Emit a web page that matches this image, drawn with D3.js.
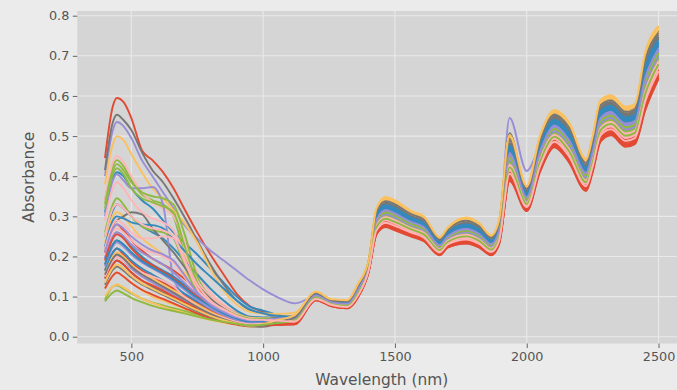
<!DOCTYPE html>
<html>
<head>
<meta charset="utf-8">
<script src="https://cdn.jsdelivr.net/npm/d3@7"></script>
<style>
  body { margin: 0; background: #ebebeb; }
  text { font-family: "DejaVu Sans", sans-serif; }
</style>
</head>
<body>
<svg id="chart" width="677" height="390"></svg>
<script>
// wavelength knots (nm) shared by every spectrum
const wavelengths = [400, 430, 445, 470, 500, 540, 580, 620, 660, 700, 750, 800, 850, 900, 950, 1000, 1050, 1120,
  1200, 1260, 1320, 1360, 1400, 1430, 1465, 1500, 1560, 1610, 1670, 1700, 1770, 1820, 1865, 1895, 1935, 2000,
  2050, 2105, 2160, 2225, 2250, 2280, 2320, 2375, 2410, 2450, 2500];

// absorbance of each sample
const s00 = [0.445, 0.575, 0.595, 0.585, 0.545, 0.465, 0.44, 0.41, 0.37, 0.32, 0.26, 0.205, 0.155, 0.107, 0.076, 0.062, 0.048, 0.033,
  0.091, 0.076, 0.071, 0.098, 0.160, 0.255, 0.273, 0.265, 0.250, 0.238, 0.203, 0.222, 0.232, 0.222, 0.203, 0.230, 0.388, 0.313, 0.410, 0.472, 0.435, 0.363, 0.410, 0.486, 0.502, 0.473, 0.480, 0.565, 0.642];
const s01 = [0.31, 0.395, 0.41, 0.40, 0.37, 0.34, 0.32, 0.29, 0.26, 0.235, 0.205, 0.17, 0.135, 0.10, 0.075, 0.065, 0.055, 0.047,
  0.103, 0.085, 0.082, 0.117, 0.177, 0.291, 0.314, 0.306, 0.285, 0.272, 0.228, 0.250, 0.268, 0.256, 0.231, 0.263, 0.455, 0.348, 0.460, 0.523, 0.490, 0.407, 0.460, 0.543, 0.557, 0.528, 0.535, 0.645, 0.715];
const s02 = [0.40, 0.515, 0.535, 0.525, 0.495, 0.44, 0.40, 0.36, 0.32, 0.28, 0.245, 0.215, 0.19, 0.165, 0.14, 0.118, 0.10, 0.083,
  0.100, 0.084, 0.080, 0.113, 0.174, 0.284, 0.307, 0.299, 0.279, 0.266, 0.223, 0.245, 0.261, 0.250, 0.226, 0.262, 0.545, 0.413, 0.475, 0.520, 0.480, 0.399, 0.451, 0.533, 0.547, 0.518, 0.525, 0.630, 0.702];
const s03 = [0.415, 0.535, 0.553, 0.54, 0.515, 0.46, 0.415, 0.385, 0.345, 0.30, 0.24, 0.18, 0.13, 0.09, 0.066, 0.058, 0.052, 0.052,
  0.108, 0.090, 0.087, 0.125, 0.184, 0.307, 0.333, 0.325, 0.301, 0.288, 0.239, 0.262, 0.284, 0.271, 0.243, 0.278, 0.507, 0.363, 0.482, 0.546, 0.515, 0.427, 0.482, 0.569, 0.582, 0.553, 0.560, 0.681, 0.748];
const s04 = [0.38, 0.48, 0.50, 0.49, 0.455, 0.41, 0.37, 0.345, 0.315, 0.285, 0.235, 0.17, 0.115, 0.08, 0.062, 0.058, 0.057, 0.06,
  0.112, 0.093, 0.091, 0.132, 0.190, 0.320, 0.348, 0.340, 0.314, 0.300, 0.248, 0.272, 0.297, 0.283, 0.253, 0.290, 0.498, 0.376, 0.500, 0.565, 0.535, 0.443, 0.500, 0.590, 0.602, 0.573, 0.580, 0.710, 0.775];
const s05 = [0.34, 0.425, 0.44, 0.425, 0.39, 0.355, 0.34, 0.33, 0.30, 0.21, 0.13, 0.09, 0.07, 0.055, 0.045, 0.045, 0.043, 0.045,
  0.102, 0.085, 0.081, 0.115, 0.175, 0.288, 0.311, 0.303, 0.282, 0.269, 0.226, 0.247, 0.265, 0.253, 0.228, 0.260, 0.449, 0.345, 0.455, 0.519, 0.485, 0.403, 0.455, 0.538, 0.552, 0.523, 0.530, 0.638, 0.709];
const s06 = [0.34, 0.435, 0.45, 0.435, 0.40, 0.36, 0.335, 0.32, 0.30, 0.24, 0.16, 0.11, 0.08, 0.06, 0.05, 0.048, 0.045, 0.042,
  0.098, 0.082, 0.078, 0.110, 0.171, 0.278, 0.299, 0.291, 0.272, 0.260, 0.219, 0.240, 0.255, 0.243, 0.221, 0.251, 0.430, 0.335, 0.442, 0.505, 0.470, 0.391, 0.442, 0.522, 0.537, 0.508, 0.515, 0.616, 0.689];
const s07 = [0.21, 0.27, 0.28, 0.265, 0.24, 0.215, 0.195, 0.18, 0.165, 0.145, 0.12, 0.095, 0.075, 0.055, 0.045, 0.042, 0.04, 0.036,
  0.094, 0.078, 0.073, 0.102, 0.164, 0.263, 0.282, 0.274, 0.258, 0.245, 0.208, 0.228, 0.240, 0.229, 0.209, 0.237, 0.403, 0.321, 0.421, 0.483, 0.447, 0.373, 0.421, 0.499, 0.514, 0.485, 0.492, 0.582, 0.658];
const s08 = [0.25, 0.315, 0.33, 0.32, 0.30, 0.275, 0.26, 0.245, 0.22, 0.19, 0.155, 0.12, 0.09, 0.065, 0.05, 0.048, 0.048, 0.05,
  0.106, 0.088, 0.085, 0.122, 0.181, 0.301, 0.326, 0.318, 0.295, 0.281, 0.235, 0.257, 0.278, 0.265, 0.238, 0.272, 0.473, 0.357, 0.473, 0.537, 0.505, 0.419, 0.473, 0.559, 0.572, 0.543, 0.550, 0.667, 0.735];
const s09 = [0.30, 0.39, 0.405, 0.39, 0.37, 0.37, 0.373, 0.33, 0.145, 0.105, 0.08, 0.065, 0.055, 0.048, 0.045, 0.047, 0.048, 0.05,
  0.104, 0.086, 0.083, 0.118, 0.178, 0.294, 0.318, 0.310, 0.288, 0.275, 0.230, 0.252, 0.271, 0.259, 0.233, 0.266, 0.461, 0.351, 0.464, 0.528, 0.495, 0.411, 0.464, 0.548, 0.562, 0.533, 0.540, 0.652, 0.722];
const s10 = [0.18, 0.23, 0.24, 0.23, 0.21, 0.19, 0.175, 0.16, 0.145, 0.125, 0.10, 0.08, 0.062, 0.045, 0.038, 0.04, 0.045, 0.052,
  0.110, 0.091, 0.089, 0.129, 0.187, 0.314, 0.341, 0.333, 0.308, 0.294, 0.244, 0.267, 0.291, 0.277, 0.248, 0.284, 0.497, 0.370, 0.491, 0.556, 0.525, 0.435, 0.491, 0.580, 0.592, 0.563, 0.570, 0.696, 0.762];
const s11 = [0.235, 0.30, 0.31, 0.30, 0.275, 0.245, 0.225, 0.205, 0.185, 0.16, 0.13, 0.10, 0.075, 0.055, 0.045, 0.045, 0.048, 0.055,
  0.111, 0.092, 0.090, 0.130, 0.189, 0.317, 0.344, 0.336, 0.311, 0.297, 0.246, 0.270, 0.294, 0.280, 0.251, 0.287, 0.503, 0.373, 0.496, 0.560, 0.530, 0.439, 0.496, 0.585, 0.597, 0.568, 0.575, 0.703, 0.768];
const s12 = [0.33, 0.415, 0.43, 0.415, 0.385, 0.36, 0.35, 0.345, 0.33, 0.26, 0.15, 0.10, 0.075, 0.058, 0.048, 0.046, 0.045, 0.045,
  0.099, 0.083, 0.079, 0.112, 0.172, 0.281, 0.303, 0.295, 0.276, 0.263, 0.221, 0.242, 0.258, 0.246, 0.223, 0.254, 0.436, 0.338, 0.446, 0.509, 0.475, 0.395, 0.446, 0.528, 0.542, 0.513, 0.520, 0.623, 0.695];
const s13 = [0.29, 0.37, 0.385, 0.37, 0.34, 0.31, 0.295, 0.285, 0.265, 0.21, 0.14, 0.10, 0.075, 0.057, 0.047, 0.045, 0.043, 0.04,
  0.097, 0.081, 0.077, 0.108, 0.169, 0.275, 0.296, 0.288, 0.269, 0.257, 0.217, 0.237, 0.252, 0.240, 0.218, 0.248, 0.424, 0.332, 0.437, 0.500, 0.465, 0.387, 0.437, 0.517, 0.532, 0.503, 0.510, 0.609, 0.682];
const s14 = [0.165, 0.21, 0.22, 0.205, 0.185, 0.165, 0.15, 0.135, 0.12, 0.105, 0.085, 0.065, 0.05, 0.04, 0.032, 0.033, 0.032, 0.031,
  0.092, 0.077, 0.072, 0.100, 0.162, 0.258, 0.277, 0.269, 0.253, 0.241, 0.205, 0.225, 0.235, 0.225, 0.206, 0.233, 0.394, 0.316, 0.415, 0.477, 0.440, 0.367, 0.415, 0.491, 0.507, 0.478, 0.485, 0.572, 0.649];
const s15 = [0.195, 0.25, 0.26, 0.25, 0.225, 0.20, 0.18, 0.165, 0.15, 0.13, 0.105, 0.085, 0.065, 0.05, 0.042, 0.043, 0.046, 0.05,
  0.105, 0.087, 0.084, 0.120, 0.180, 0.297, 0.322, 0.314, 0.292, 0.278, 0.232, 0.255, 0.274, 0.262, 0.236, 0.269, 0.467, 0.354, 0.469, 0.533, 0.500, 0.415, 0.469, 0.554, 0.567, 0.538, 0.545, 0.659, 0.729];
const s16 = [0.15, 0.19, 0.20, 0.19, 0.17, 0.15, 0.135, 0.12, 0.105, 0.09, 0.072, 0.056, 0.045, 0.037, 0.032, 0.035, 0.04, 0.046,
  0.103, 0.086, 0.083, 0.118, 0.177, 0.293, 0.317, 0.309, 0.287, 0.274, 0.229, 0.251, 0.270, 0.257, 0.232, 0.265, 0.458, 0.350, 0.462, 0.526, 0.493, 0.409, 0.462, 0.546, 0.560, 0.531, 0.538, 0.649, 0.719];
const s17 = [0.145, 0.18, 0.19, 0.18, 0.16, 0.14, 0.125, 0.11, 0.097, 0.083, 0.066, 0.052, 0.04, 0.032, 0.026, 0.025, 0.032, 0.045,
  0.107, 0.089, 0.086, 0.124, 0.183, 0.304, 0.329, 0.321, 0.298, 0.285, 0.237, 0.260, 0.281, 0.268, 0.241, 0.275, 0.479, 0.360, 0.478, 0.542, 0.510, 0.423, 0.478, 0.564, 0.577, 0.548, 0.555, 0.674, 0.742];
const s18 = [0.12, 0.152, 0.16, 0.15, 0.135, 0.115, 0.10, 0.09, 0.08, 0.07, 0.058, 0.047, 0.038, 0.031, 0.027, 0.03, 0.04, 0.052,
  0.109, 0.091, 0.088, 0.127, 0.186, 0.310, 0.337, 0.329, 0.304, 0.291, 0.241, 0.265, 0.287, 0.274, 0.246, 0.281, 0.491, 0.367, 0.487, 0.551, 0.520, 0.431, 0.487, 0.574, 0.587, 0.558, 0.565, 0.688, 0.755];
const s19 = [0.26, 0.33, 0.345, 0.33, 0.30, 0.275, 0.265, 0.26, 0.245, 0.18, 0.11, 0.075, 0.058, 0.047, 0.04, 0.04, 0.042, 0.045,
  0.101, 0.084, 0.080, 0.114, 0.174, 0.286, 0.308, 0.300, 0.280, 0.267, 0.224, 0.246, 0.263, 0.251, 0.227, 0.258, 0.445, 0.343, 0.452, 0.516, 0.482, 0.401, 0.452, 0.535, 0.549, 0.520, 0.527, 0.633, 0.705];
const s20 = [0.205, 0.26, 0.27, 0.26, 0.24, 0.22, 0.21, 0.20, 0.185, 0.15, 0.105, 0.075, 0.058, 0.045, 0.038, 0.038, 0.038, 0.038,
  0.096, 0.080, 0.076, 0.107, 0.168, 0.271, 0.292, 0.284, 0.266, 0.254, 0.214, 0.235, 0.248, 0.237, 0.216, 0.245, 0.418, 0.329, 0.433, 0.495, 0.460, 0.383, 0.433, 0.512, 0.527, 0.498, 0.505, 0.601, 0.675];
const s21 = [0.145, 0.18, 0.19, 0.18, 0.16, 0.14, 0.128, 0.115, 0.10, 0.087, 0.07, 0.055, 0.043, 0.035, 0.03, 0.032, 0.034, 0.036,
  0.095, 0.079, 0.075, 0.104, 0.165, 0.267, 0.287, 0.279, 0.262, 0.249, 0.211, 0.231, 0.244, 0.233, 0.212, 0.241, 0.410, 0.324, 0.426, 0.489, 0.453, 0.377, 0.426, 0.505, 0.520, 0.491, 0.498, 0.591, 0.666];
const s22 = [0.165, 0.21, 0.22, 0.21, 0.19, 0.17, 0.155, 0.14, 0.125, 0.108, 0.088, 0.07, 0.055, 0.043, 0.037, 0.038, 0.042, 0.047,
  0.104, 0.087, 0.084, 0.119, 0.179, 0.296, 0.320, 0.312, 0.290, 0.277, 0.231, 0.254, 0.273, 0.260, 0.235, 0.268, 0.464, 0.353, 0.467, 0.531, 0.498, 0.413, 0.467, 0.552, 0.565, 0.536, 0.543, 0.656, 0.726];
const s23 = [0.195, 0.25, 0.26, 0.25, 0.23, 0.21, 0.195, 0.18, 0.16, 0.135, 0.105, 0.08, 0.06, 0.047, 0.04, 0.041, 0.043, 0.046,
  0.102, 0.085, 0.081, 0.116, 0.176, 0.289, 0.312, 0.304, 0.283, 0.270, 0.226, 0.248, 0.266, 0.254, 0.229, 0.261, 0.451, 0.346, 0.457, 0.520, 0.487, 0.405, 0.457, 0.540, 0.554, 0.525, 0.532, 0.640, 0.711];
const s24 = [0.22, 0.28, 0.29, 0.30, 0.31, 0.305, 0.27, 0.24, 0.21, 0.175, 0.13, 0.095, 0.07, 0.052, 0.043, 0.043, 0.047, 0.052,
  0.108, 0.090, 0.088, 0.126, 0.185, 0.309, 0.335, 0.327, 0.303, 0.290, 0.240, 0.264, 0.286, 0.273, 0.245, 0.280, 0.488, 0.365, 0.485, 0.549, 0.518, 0.429, 0.485, 0.572, 0.585, 0.556, 0.563, 0.685, 0.752];
const s25 = [0.155, 0.20, 0.21, 0.20, 0.18, 0.16, 0.145, 0.13, 0.115, 0.10, 0.08, 0.062, 0.048, 0.037, 0.031, 0.033, 0.042, 0.053,
  0.110, 0.091, 0.089, 0.128, 0.186, 0.312, 0.339, 0.331, 0.306, 0.293, 0.243, 0.266, 0.289, 0.276, 0.247, 0.283, 0.495, 0.368, 0.489, 0.554, 0.523, 0.433, 0.489, 0.578, 0.590, 0.561, 0.568, 0.693, 0.759];
const s26 = [0.092, 0.125, 0.128, 0.12, 0.108, 0.095, 0.085, 0.078, 0.071, 0.064, 0.055, 0.047, 0.04, 0.034, 0.03, 0.032, 0.036, 0.042,
  0.099, 0.083, 0.079, 0.111, 0.171, 0.280, 0.302, 0.294, 0.274, 0.262, 0.220, 0.241, 0.257, 0.245, 0.222, 0.253, 0.434, 0.337, 0.444, 0.507, 0.473, 0.393, 0.444, 0.526, 0.540, 0.511, 0.518, 0.620, 0.693];
const s27 = [0.15, 0.19, 0.20, 0.19, 0.175, 0.16, 0.15, 0.14, 0.125, 0.10, 0.075, 0.058, 0.046, 0.037, 0.032, 0.033, 0.035, 0.037,
  0.096, 0.080, 0.075, 0.106, 0.167, 0.269, 0.290, 0.282, 0.264, 0.252, 0.213, 0.233, 0.246, 0.235, 0.214, 0.243, 0.415, 0.327, 0.430, 0.493, 0.457, 0.381, 0.430, 0.509, 0.524, 0.495, 0.502, 0.597, 0.671];
const s28 = [0.19, 0.245, 0.255, 0.245, 0.22, 0.195, 0.178, 0.162, 0.145, 0.125, 0.10, 0.078, 0.06, 0.046, 0.038, 0.037, 0.035, 0.033,
  0.093, 0.077, 0.073, 0.101, 0.162, 0.260, 0.279, 0.271, 0.255, 0.243, 0.207, 0.226, 0.237, 0.227, 0.207, 0.235, 0.398, 0.318, 0.417, 0.479, 0.443, 0.369, 0.417, 0.494, 0.510, 0.481, 0.488, 0.577, 0.653];
const s29 = [0.225, 0.29, 0.30, 0.295, 0.285, 0.28, 0.278, 0.27, 0.245, 0.215, 0.18, 0.15, 0.12, 0.09, 0.068, 0.058, 0.052, 0.05,
  0.105, 0.088, 0.085, 0.121, 0.180, 0.299, 0.324, 0.316, 0.294, 0.280, 0.234, 0.256, 0.276, 0.264, 0.237, 0.271, 0.470, 0.356, 0.471, 0.535, 0.503, 0.417, 0.471, 0.557, 0.570, 0.541, 0.548, 0.664, 0.732];
const s30 = [0.175, 0.225, 0.235, 0.225, 0.205, 0.185, 0.17, 0.155, 0.138, 0.118, 0.092, 0.07, 0.054, 0.042, 0.036, 0.037, 0.04, 0.045,
  0.100, 0.083, 0.080, 0.113, 0.173, 0.283, 0.305, 0.297, 0.278, 0.265, 0.222, 0.244, 0.260, 0.248, 0.225, 0.256, 0.440, 0.340, 0.449, 0.512, 0.478, 0.397, 0.449, 0.531, 0.545, 0.516, 0.523, 0.627, 0.699];
const s31 = [0.155, 0.195, 0.205, 0.195, 0.175, 0.155, 0.14, 0.125, 0.11, 0.094, 0.074, 0.057, 0.044, 0.034, 0.028, 0.027, 0.033, 0.046,
  0.107, 0.089, 0.087, 0.125, 0.183, 0.306, 0.332, 0.324, 0.300, 0.286, 0.238, 0.261, 0.283, 0.270, 0.242, 0.277, 0.482, 0.362, 0.480, 0.545, 0.513, 0.425, 0.480, 0.567, 0.580, 0.551, 0.558, 0.678, 0.746];
const s32 = [0.10, 0.125, 0.13, 0.123, 0.11, 0.095, 0.084, 0.075, 0.067, 0.06, 0.05, 0.042, 0.035, 0.03, 0.026, 0.028, 0.038, 0.052,
  0.111, 0.092, 0.090, 0.130, 0.188, 0.316, 0.343, 0.335, 0.310, 0.296, 0.245, 0.269, 0.293, 0.279, 0.250, 0.286, 0.501, 0.372, 0.494, 0.559, 0.528, 0.437, 0.494, 0.583, 0.595, 0.566, 0.573, 0.700, 0.766];
const s33 = [0.32, 0.405, 0.42, 0.405, 0.37, 0.345, 0.335, 0.325, 0.31, 0.23, 0.135, 0.09, 0.068, 0.054, 0.045, 0.044, 0.044, 0.046,
  0.101, 0.084, 0.081, 0.115, 0.175, 0.287, 0.310, 0.302, 0.281, 0.268, 0.225, 0.247, 0.264, 0.252, 0.228, 0.259, 0.447, 0.344, 0.454, 0.518, 0.484, 0.402, 0.454, 0.537, 0.551, 0.522, 0.529, 0.636, 0.707];
const s34 = [0.22, 0.28, 0.29, 0.28, 0.26, 0.245, 0.245, 0.25, 0.245, 0.19, 0.12, 0.085, 0.065, 0.05, 0.042, 0.041, 0.04, 0.04,
  0.098, 0.082, 0.078, 0.109, 0.170, 0.277, 0.298, 0.290, 0.271, 0.259, 0.218, 0.239, 0.254, 0.242, 0.220, 0.250, 0.428, 0.334, 0.440, 0.503, 0.468, 0.389, 0.440, 0.520, 0.535, 0.506, 0.513, 0.613, 0.686];
const s35 = [0.12, 0.152, 0.16, 0.15, 0.134, 0.117, 0.105, 0.094, 0.083, 0.072, 0.058, 0.046, 0.037, 0.03, 0.026, 0.028, 0.029, 0.031,
  0.091, 0.076, 0.071, 0.099, 0.161, 0.256, 0.275, 0.267, 0.251, 0.239, 0.204, 0.223, 0.233, 0.223, 0.204, 0.231, 0.390, 0.314, 0.412, 0.474, 0.437, 0.365, 0.412, 0.488, 0.504, 0.475, 0.482, 0.568, 0.645];
const s36 = [0.18, 0.23, 0.24, 0.23, 0.21, 0.188, 0.172, 0.158, 0.142, 0.122, 0.097, 0.076, 0.058, 0.045, 0.038, 0.039, 0.044, 0.05,
  0.106, 0.088, 0.086, 0.123, 0.182, 0.303, 0.328, 0.320, 0.297, 0.283, 0.236, 0.259, 0.280, 0.267, 0.240, 0.274, 0.476, 0.359, 0.476, 0.540, 0.508, 0.421, 0.476, 0.562, 0.575, 0.546, 0.553, 0.671, 0.739];
const s37 = [0.21, 0.27, 0.28, 0.27, 0.25, 0.23, 0.215, 0.205, 0.19, 0.155, 0.11, 0.08, 0.062, 0.048, 0.041, 0.042, 0.045, 0.048,
  0.103, 0.086, 0.082, 0.117, 0.177, 0.291, 0.315, 0.307, 0.286, 0.273, 0.228, 0.250, 0.268, 0.256, 0.231, 0.264, 0.456, 0.348, 0.460, 0.524, 0.491, 0.408, 0.460, 0.544, 0.558, 0.529, 0.536, 0.646, 0.717];
const s38 = [0.13, 0.167, 0.175, 0.165, 0.148, 0.13, 0.117, 0.104, 0.092, 0.079, 0.063, 0.05, 0.04, 0.032, 0.027, 0.028, 0.036, 0.048,
  0.109, 0.091, 0.088, 0.128, 0.186, 0.312, 0.338, 0.330, 0.306, 0.292, 0.242, 0.266, 0.289, 0.275, 0.247, 0.282, 0.493, 0.368, 0.488, 0.553, 0.522, 0.433, 0.488, 0.577, 0.589, 0.560, 0.567, 0.691, 0.758];
const s39 = [0.135, 0.172, 0.18, 0.17, 0.152, 0.133, 0.12, 0.107, 0.095, 0.082, 0.066, 0.052, 0.041, 0.033, 0.028, 0.031, 0.041, 0.054,
  0.112, 0.093, 0.091, 0.131, 0.189, 0.319, 0.347, 0.339, 0.313, 0.299, 0.247, 0.271, 0.296, 0.282, 0.252, 0.289, 0.500, 0.375, 0.498, 0.563, 0.533, 0.441, 0.498, 0.588, 0.600, 0.571, 0.578, 0.707, 0.772];
const s40 = [0.088, 0.11, 0.115, 0.108, 0.097, 0.086, 0.077, 0.07, 0.064, 0.058, 0.05, 0.043, 0.037, 0.032, 0.028, 0.03, 0.034, 0.04,
  0.097, 0.081, 0.077, 0.108, 0.168, 0.273, 0.294, 0.286, 0.268, 0.255, 0.216, 0.236, 0.250, 0.239, 0.217, 0.247, 0.422, 0.331, 0.435, 0.498, 0.463, 0.385, 0.435, 0.515, 0.530, 0.501, 0.508, 0.606, 0.679];
const s41 = [0.25, 0.32, 0.33, 0.32, 0.30, 0.28, 0.27, 0.265, 0.25, 0.195, 0.13, 0.09, 0.068, 0.052, 0.043, 0.042, 0.04, 0.038,
  0.094, 0.079, 0.074, 0.103, 0.165, 0.265, 0.284, 0.276, 0.260, 0.247, 0.210, 0.230, 0.242, 0.231, 0.211, 0.239, 0.406, 0.323, 0.424, 0.486, 0.450, 0.375, 0.424, 0.502, 0.517, 0.488, 0.495, 0.587, 0.662];

const samples = [s00, s01, s02, s03, s04, s05, s06, s07, s08, s09, s10, s11, s12, s13,
  s14, s15, s16, s17, s18, s19, s20, s21, s22, s23, s24, s25, s26, s27,
  s28, s29, s30, s31, s32, s33, s34, s35, s36, s37, s38, s39, s40, s41];

const xTicks = [500, 1000, 1500, 2000, 2500];
const yTicks = [0.0, 0.1, 0.2, 0.3, 0.4, 0.5, 0.6, 0.7, 0.8];

// matplotlib "ggplot" colour cycle
const palette = ['#E24A33', '#348ABD', '#988ED5', '#777777', '#FBC15E', '#8EBA42', '#FFB5B8'];

const svg = d3.select('#chart');
const plot = { left: 77.3, right: 686.2, top: 11, bottom: 343.5 };

const x = d3.scaleLinear().domain([295, 2605]).range([plot.left, plot.right]);
const y = d3.scaleLinear().domain([-0.0169, 0.8117]).range([plot.bottom, plot.top]);

svg.append('rect').attr('width', 677).attr('height', 390).attr('fill', '#ebebeb');
svg.append('rect')
  .attr('x', plot.left).attr('y', plot.top)
  .attr('width', plot.right - plot.left).attr('height', plot.bottom - plot.top)
  .attr('fill', '#d5d5d5');

// grid
const grid = svg.append('g').attr('class', 'grid');
grid.selectAll('.gx').data(xTicks).enter().append('line')
  .attr('x1', d => x(d)).attr('x2', d => x(d))
  .attr('y1', plot.top).attr('y2', plot.bottom)
  .attr('stroke', '#e9e9e9').attr('stroke-width', 1.1);
grid.selectAll('.gy').data(yTicks).enter().append('line')
  .attr('x1', plot.left).attr('x2', plot.right)
  .attr('y1', d => y(d)).attr('y2', d => y(d))
  .attr('stroke', '#e9e9e9').attr('stroke-width', 1.1);

// spectra
const line = d3.line()
  .x((d, i) => x(wavelengths[i]))
  .y(d => y(d))
  .curve(d3.curveMonotoneX);

svg.append('g').attr('class', 'spectra')
  .selectAll('path').data(samples).enter().append('path')
  .attr('d', line)
  .attr('fill', 'none')
  .attr('stroke', (d, i) => palette[i % palette.length])
  .attr('stroke-width', 1.9)
  .attr('stroke-linejoin', 'round');

// axes
const xAxis = svg.append('g')
  .attr('transform', `translate(0, ${plot.bottom})`)
  .call(d3.axisBottom(x).tickValues(xTicks).tickFormat(d3.format('d')).tickSize(4.5).tickPadding(3.5));
const yAxis = svg.append('g')
  .attr('transform', `translate(${plot.left}, 0)`)
  .call(d3.axisLeft(y).tickValues(yTicks).tickFormat(d3.format('.1f')).tickSize(4.5).tickPadding(3.5));

[xAxis, yAxis].forEach(a => {
  a.select('.domain').remove();
  a.selectAll('line').attr('stroke', '#555555').attr('stroke-width', 0.9);
  a.selectAll('text').attr('fill', '#555555').attr('font-size', '12.8px')
    .attr('font-family', '"DejaVu Sans", sans-serif');
});

svg.append('text')
  .attr('x', (plot.left + plot.right) / 2).attr('y', 385)
  .attr('text-anchor', 'middle').attr('fill', '#555555').attr('font-size', '15.4px')
  .text('Wavelength (nm)');

svg.append('text')
  .attr('transform', `translate(34, ${(plot.top + plot.bottom) / 2}) rotate(-90)`)
  .attr('text-anchor', 'middle').attr('fill', '#555555').attr('font-size', '15.4px')
  .text('Absorbance');
</script>
</body>
</html>
